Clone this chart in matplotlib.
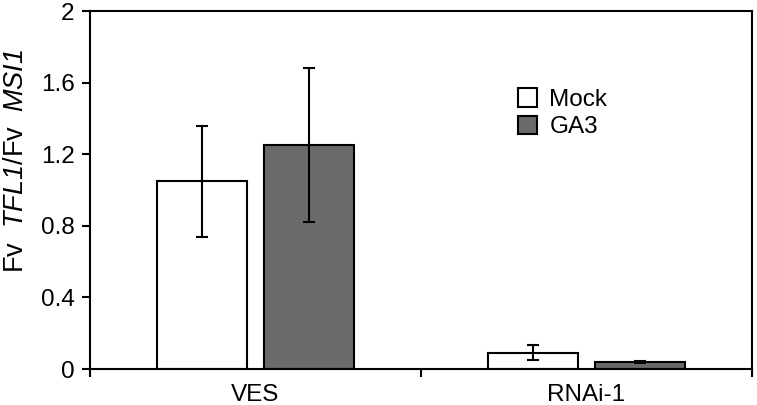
import matplotlib
matplotlib.use("Agg")
import matplotlib.pyplot as plt
import numpy as np

plt.rcParams['font.family'] = ['Liberation Sans', 'DejaVu Sans']
plt.rcParams['mathtext.fontset'] = 'custom'
plt.rcParams['mathtext.rm'] = 'Liberation Sans'
plt.rcParams['mathtext.sf'] = 'Liberation Sans:italic'

categories = ['VES', 'RNAi-1']
series = ['Mock', 'GA3']
mock_vals = [1.05, 0.09]
mock_err = [0.31, 0.042]
ga3_vals = [1.25, 0.04]
ga3_err = [0.43, 0.006]
yticks = [0, 0.4, 0.8, 1.2, 1.6, 2]
ytick_labels = ['0', '0.4', '0.8', '1.2', '1.6', '2']

FS = 17.5
fig = plt.figure(figsize=(7.57, 4.05), dpi=100)
ax = fig.add_axes([90/757, 36/405, 662/757, 358/405])

x = np.arange(len(categories))
w = 0.272
off = 0.161
lw = 1.5
ekw = dict(elinewidth=1.5, capthick=1.5, ecolor='black')
ax.bar(x - off, mock_vals, w, color='white', edgecolor='black', linewidth=lw,
       yerr=mock_err, capsize=4, error_kw=ekw, label=series[0], zorder=2)
ax.bar(x + off, ga3_vals, w, color='#6a6a6a', edgecolor='black', linewidth=lw,
       yerr=ga3_err, capsize=4, error_kw=ekw, label=series[1], zorder=2)

ax.set_xlim(-0.5, len(categories) - 0.5)
ax.set_ylim(0, 2)
ax.set_yticks(yticks)
ax.set_yticklabels(ytick_labels, fontsize=FS)
ax.set_xticks(x)
ax.set_xticklabels(categories, fontsize=FS)
ax.tick_params(axis='x', which='major', length=0, pad=10.5)
ax.set_xticks(np.arange(-0.5, len(categories), 1.0), minor=True)
ax.tick_params(axis='x', which='minor', length=6, width=1.5, direction='out')
ax.tick_params(axis='y', length=6, width=1.5, direction='out', pad=5)
for s in ax.spines.values():
    s.set_linewidth(1.5)

ax.set_ylabel(r'Fv  $\mathsf{TFL1}$/Fv  $\mathsf{MSI1}$', fontsize=19.5)
ax.yaxis.set_label_coords(-0.092, 0.58)

ax.legend(loc='upper left', bbox_to_anchor=(0.628, 0.819), frameon=False,
          fontsize=FS, handlelength=0.8, handleheight=0.8, handletextpad=0.5,
          labelspacing=0.2, borderpad=0)

fig.savefig('out.png', dpi=100)
